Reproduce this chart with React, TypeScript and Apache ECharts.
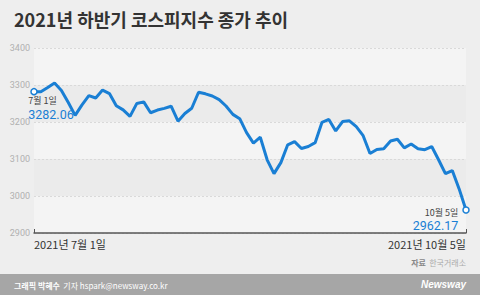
import React, { useEffect, useRef } from "react";
import * as echarts from "echarts";

const dates: string[] = [
  "7/1", "7/2", "7/5", "7/6", "7/7", "7/8", "7/9", "7/12", "7/13", "7/14", "7/15", "7/16",
  "7/19", "7/20", "7/21", "7/22", "7/23", "7/26", "7/27", "7/28", "7/29", "7/30",
  "8/2", "8/3", "8/4", "8/5", "8/6", "8/9", "8/10", "8/11", "8/12", "8/13",
  "8/17", "8/18", "8/19", "8/20", "8/23", "8/24", "8/25", "8/26", "8/27", "8/30", "8/31",
  "9/1", "9/2", "9/3", "9/6", "9/7", "9/8", "9/9", "9/10", "9/13", "9/14", "9/15", "9/16", "9/17",
  "9/23", "9/24", "9/27", "9/28", "9/29", "9/30",
  "10/1", "10/5",
];

const kospi: number[] = [
  3282.06, 3281.78, 3293.21, 3305.21, 3285.34, 3252.68, 3217.95, 3246.43, 3271.38, 3264.93, 3286.22, 3276.91,
  3244.04, 3232.7, 3215.15, 3250.21, 3254.42, 3224.95, 3232.32, 3236.86, 3242.65, 3202.32,
  3223.04, 3237.14, 3280.38, 3276.13, 3270.36, 3260.42, 3243.19, 3220.62, 3208.99, 3171.29,
  3143.09, 3158.93, 3097.83, 3060.51, 3090.21, 3138.3, 3146.99, 3128.53, 3133.9, 3144.19, 3199.27,
  3207.02, 3175.85, 3201.06, 3203.33, 3187.42, 3162.99, 3114.7, 3125.76, 3127.86, 3148.83, 3153.4, 3130.09, 3140.51,
  3127.58, 3125.24, 3133.64, 3097.92, 3060.27, 3068.82,
  3019.18, 2962.17,
];

const yTicks = { min: 2900, max: 3400, interval: 100 };

const title = "2021년 하반기 코스피지수 종가 추이";
const source = ["자료", "한국거래소"];
const credit = ["그래픽 박혜수", "기자 hspark@newsway.co.kr"];

const BLUE = "#1a7fd4";
const NUM_FONT = "'Liberation Sans Narrow', 'Roboto', sans-serif";
const KR_FONT = "'Noto Sans CJK KR', 'Noto Sans', sans-serif";

function fullDate(d: string) {
  const [m, day] = d.split("/");
  return `2021년 ${m}월 ${day}일`;
}
function shortDate(d: string) {
  const [m, day] = d.split("/");
  return `${m}월 ${day}일`;
}

export default function App() {
  const ref = useRef<HTMLDivElement>(null);
  useEffect(() => {
    if (!ref.current) return;
    const chart = echarts.init(ref.current, undefined, { renderer: "svg" });
    const last = kospi.length - 1;
    const richL = {
      a: { fontFamily: KR_FONT, fontSize: 9, color: "#444", lineHeight: 12, align: "left" },
      b: { fontFamily: NUM_FONT, fontSize: 12.5, color: BLUE, lineHeight: 15, align: "left" },
    };
    const richR = {
      a: { ...richL.a, align: "right" },
      b: { ...richL.b, align: "right" },
    };
    const seriesData = kospi.map((v, i) => {
      if (i === 0) {
        return {
          value: v,
          symbol: "circle",
          symbolSize: 6,
          label: {
            show: true,
            position: [-2, 7],
            align: "left",
            verticalAlign: "top",
            formatter: `{a|${shortDate(dates[i])}}\n{b|${v.toFixed(2)}}`,
            rich: richL,
          },
        };
      }
      if (i === last) {
        return {
          value: v,
          symbol: "circle",
          symbolSize: 6,
          label: {
            show: true,
            position: [-4, 0],
            align: "right",
            verticalAlign: "top",
            formatter: `{a|${shortDate(dates[i])}}\n{b|${v.toFixed(2)}}`,
            rich: richR,
          },
        };
      }
      return { value: v, symbol: "none" };
    });

    chart.setOption({
      animation: false,
      backgroundColor: "#eeeeee",
      grid: { left: 34, right: 14, top: 48, bottom: 62, containLabel: false },
      xAxis: {
        type: "category",
        data: dates,
        boundaryGap: false,
        axisLine: { show: true, lineStyle: { color: "#555", width: 1.5 } },
        axisTick: {
          show: true,
          inside: true,
          length: 4,
          interval: (i: number) => i === 0 || i === last,
          lineStyle: { color: "#555", width: 1 },
        },
        axisLabel: {
          show: true,
          interval: (i: number) => i === 0 || i === last,
          formatter: (v: string) => fullDate(v),
          alignMinLabel: "left",
          alignMaxLabel: "right",
          fontFamily: KR_FONT,
          fontSize: 11,
          color: "#333",
          margin: 5,
        },
        splitLine: { show: false },
      },
      yAxis: {
        type: "value",
        min: yTicks.min,
        max: yTicks.max,
        interval: yTicks.interval,
        axisLine: { show: false },
        axisTick: { show: false },
        axisLabel: {
          color: "#b0b0b0",
          fontFamily: NUM_FONT,
          fontSize: 9,
          margin: 4,
          formatter: (v: number) => String(v),
        },
        splitLine: { show: true, lineStyle: { color: "#d9d9d9", type: [2, 2], width: 1 } },
        splitArea: { show: true, areaStyle: { color: ["#f4f4f4", "#ebebeb"] } },
      },
      series: [
        {
          type: "line",
          data: seriesData,
          showSymbol: true,
          lineStyle: { color: BLUE, width: 3 },
          itemStyle: { color: "#ffffff", borderColor: BLUE, borderWidth: 1.5 },
          z: 3,
        },
      ],
      graphic: [
        {
          type: "text",
          left: 14,
          top: 10,
          style: {
            text: title,
            fontFamily: KR_FONT,
            fontWeight: "bold",
            fontSize: 18,
            fill: "#333333",
          },
        },
        {
          type: "text",
          right: 14,
          top: 256,
          style: {
            text: `{b|${source[0]}} {n|${source[1]}}`,
            rich: {
              b: { fontFamily: KR_FONT, fontWeight: "bold", fontSize: 8, fill: "#888" },
              n: { fontFamily: KR_FONT, fontSize: 8, fill: "#aaa" },
            },
          },
        },
        {
          type: "rect",
          left: 0,
          top: 274,
          shape: { width: 480, height: 21 },
          style: { fill: "#a6a6a6" },
        },
        {
          type: "text",
          left: 14,
          top: 279,
          style: {
            text: `{b|${credit[0]}} {n|${credit[1]}}`,
            rich: {
              b: { fontFamily: KR_FONT, fontWeight: "bold", fontSize: 8, fill: "#ffffff" },
              n: { fontFamily: KR_FONT, fontSize: 8, fill: "#ffffff" },
            },
          },
        },
        {
          type: "text",
          right: 14,
          top: 279,
          style: {
            text: "Newsway",
            fontFamily: "'Liberation Sans', sans-serif",
            fontStyle: "italic",
            fontWeight: "bold",
            fontSize: 10,
            fill: "#ffffff",
          },
        },
      ],
    });
    return () => chart.dispose();
  }, []);
  return (
    <div
      ref={ref}
      style={{ position: "fixed", left: 0, top: 0, width: 480, height: 295 }}
    />
  );
}
